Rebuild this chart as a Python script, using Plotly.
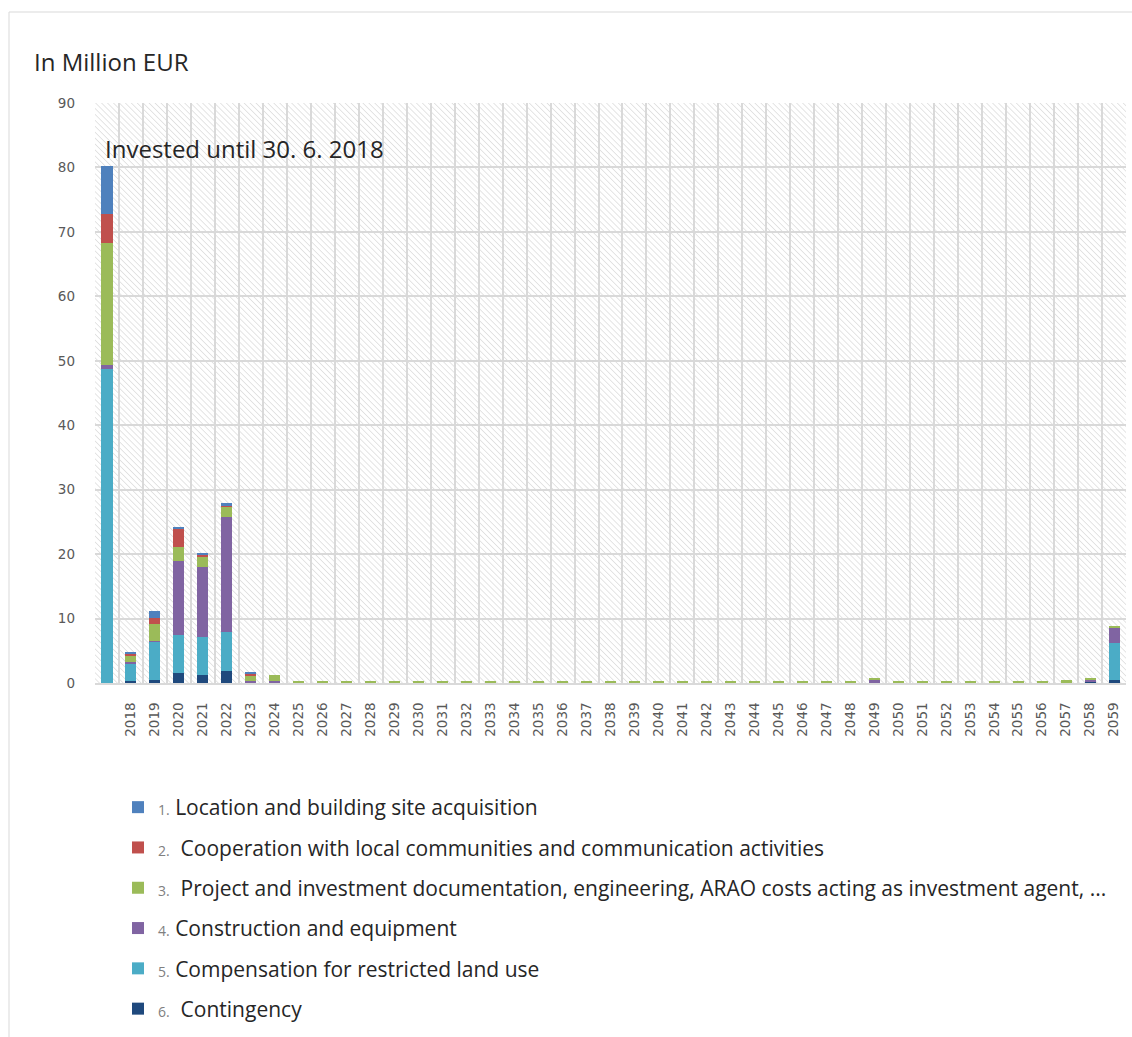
import base64
import plotly.graph_objects as go

# Categories: cumulative amount invested to mid-2018, then one bar per year
categories = ["Invested until 30. 6. 2018"] + [str(y) for y in range(2018, 2060)]
tick_labels = [""] + [str(y) for y in range(2018, 2060)]

# Series values in million EUR (index aligned with categories)
location = [7.5, 0.3, 1.1, 0.3, 0.3, 0.3, 0.1, 0.0,
            0, 0, 0, 0, 0, 0, 0, 0, 0, 0, 0, 0, 0, 0, 0, 0, 0, 0, 0, 0,
            0, 0, 0, 0, 0, 0, 0, 0, 0, 0, 0, 0, 0, 0, 0]
cooperation = [4.4, 0.2, 0.9, 2.8, 0.2, 0.2, 0.3, 0.0,
               0, 0, 0, 0, 0, 0, 0, 0, 0, 0, 0, 0, 0, 0, 0, 0, 0, 0, 0, 0,
               0, 0, 0, 0, 0, 0, 0, 0, 0, 0, 0, 0, 0, 0, 0]
project = [19.0, 1.1, 2.7, 2.1, 1.7, 1.7, 0.9, 1.0,
           0.2, 0.2, 0.2, 0.2, 0.2, 0.2, 0.2, 0.2, 0.2, 0.2, 0.2, 0.2,
           0.2, 0.2, 0.2, 0.2, 0.2, 0.2, 0.2, 0.2, 0.2, 0.2, 0.2, 0.2,
           0.2, 0.2, 0.2, 0.2, 0.2, 0.2, 0.2, 0.2, 0.5, 0.2, 0.4]
construction = [0.6, 0.1, 0.1, 11.6, 10.8, 17.8, 0.2, 0.2,
                0, 0, 0, 0, 0, 0, 0, 0, 0, 0, 0, 0, 0, 0, 0, 0, 0, 0, 0, 0,
                0, 0, 0, 0, 0.6, 0, 0, 0, 0, 0, 0, 0, 0, 0.4, 2.3]
compensation = [48.7, 2.8, 5.9, 5.8, 5.9, 6.0, 0.0, 0.0,
                0, 0, 0, 0, 0, 0, 0, 0, 0, 0, 0, 0, 0, 0, 0, 0, 0, 0, 0, 0,
                0, 0, 0, 0, 0, 0, 0, 0, 0, 0, 0, 0, 0, 0, 5.7]
contingency = [0.0, 0.3, 0.5, 1.6, 1.3, 1.9, 0.1, 0.1,
               0, 0, 0, 0, 0, 0, 0, 0, 0, 0, 0, 0, 0, 0, 0, 0, 0, 0, 0, 0,
               0, 0, 0, 0, 0, 0, 0, 0, 0, 0, 0, 0, 0, 0.1, 0.5]

y_ticks = [0, 10, 20, 30, 40, 50, 60, 70, 80, 90]

NUM = '<span style="font-size:14px;color:#808080">{}</span>'
series = [
    ("1.", " Location and building site acquisition", location, "#4F81BD"),
    ("2.", "  Cooperation with local communities and communication activities", cooperation, "#C0504D"),
    ("3.", "  Project and investment documentation, engineering, ARAO costs acting as investment agent, ...", project, "#9BBB59"),
    ("4.", " Construction and equipment", construction, "#8064A2"),
    ("5.", " Compensation for restricted land use", compensation, "#4BACC6"),
    ("6.", "  Contingency", contingency, "#1F497D"),
]

W, H = 1132, 1037
L, R, T, B = 95, 6, 103, 354
PW, PH = W - L - R, H - T - B

fig = go.Figure()
# stacked from the bottom: contingency first, location on top
for rank, (num, label, vals, color) in reversed(list(enumerate(series))):
    fig.add_trace(go.Bar(
        x=categories, y=vals, name=NUM.format(num) + label,
        marker=dict(color=color, line=dict(width=0)),
        legendgroup=f"g{rank}", legendrank=rank + 1,
        hovertemplate="%{x}: %{y}<extra></extra>",
    ))

# diagonal hatch behind the plot area
svg = (
    f'<svg xmlns="http://www.w3.org/2000/svg" width="{PW}" height="{PH}" '
    f'viewBox="0 0 {PW} {PH}" preserveAspectRatio="none">'
    '<defs><pattern id="h" width="4.2" height="4.2" patternUnits="userSpaceOnUse" '
    'patternTransform="rotate(-45)">'
    '<line x1="0" y1="0" x2="0" y2="4.2" stroke="#d0d0d0" stroke-width="1.1"/>'
    '</pattern></defs>'
    '<rect width="100%" height="100%" fill="white"/>'
    '<rect width="100%" height="100%" fill="url(#h)"/></svg>'
)
hatch = "data:image/svg+xml;base64," + base64.b64encode(svg.encode()).decode()

TEXT_FONT = "Open Sans"

fig.update_layout(
    width=W, height=H,
    margin=dict(l=L, r=R, t=T, b=B, pad=0, autoexpand=False),
    paper_bgcolor="white",
    plot_bgcolor="rgba(0,0,0,0)",
    barmode="stack",
    bargap=0.54,
    images=[dict(source=hatch, xref="paper", yref="paper", x=0, y=1,
                 sizex=1, sizey=1, sizing="stretch", xanchor="left",
                 yanchor="top", layer="below")],
    xaxis=dict(
        type="category", tickmode="array", tickvals=categories, ticktext=tick_labels,
        tickangle=-90, tickson="boundaries", ticks="", showgrid=True,
        gridcolor="#d9d9d9", gridwidth=2,
        showline=True, linecolor="#d9d9d9", linewidth=2,
        tickfont=dict(family="DejaVu Sans", size=13.5, color="#595959"),
        ticklabelstandoff=12, automargin=False,
    ),
    yaxis=dict(
        range=[0, 90], tickmode="array", tickvals=y_ticks,
        showgrid=True, gridcolor="#d9d9d9", gridwidth=2,
        zeroline=False, ticks="",
        tickfont=dict(family="DejaVu Sans", size=13.5, color="#595959"),
        ticklabelstandoff=19, automargin=False,
    ),
    legend=dict(
        xref="container", yref="container", x=118 / W, y=1 - 787 / H,
        xanchor="left", yanchor="top", traceorder="grouped",
        tracegroupgap=10, font=dict(family=TEXT_FONT, size=21, color="#262626"),
        itemwidth=30, bgcolor="rgba(0,0,0,0)",
    ),
    annotations=[
        dict(text="In Million EUR", xref="paper", yref="paper",
             x=(32 - L) / PW, y=1 + (T - 62) / PH, xanchor="left", yanchor="middle",
             showarrow=False, font=dict(family=TEXT_FONT, size=24, color="#262626")),
        dict(text="Invested until 30. 6. 2018", xref="paper", yref="paper",
             x=(103 - L) / PW, y=1 - (148 - T) / PH, xanchor="left", yanchor="middle",
             showarrow=False, font=dict(family=TEXT_FONT, size=24, color="#262626")),
    ],
    shapes=[
        dict(type="rect", xref="paper", yref="paper",
             x0=(9 - L) / PW, x1=(W + 20 - L) / PW,
             y0=1 - (H + 20 - T) / PH, y1=1 + (T - 12) / PH,
             line=dict(color="#d9d9d9", width=1), fillcolor="rgba(0,0,0,0)", layer="below"),
    ],
    showlegend=True,
)

fig.write_html("out.html")
